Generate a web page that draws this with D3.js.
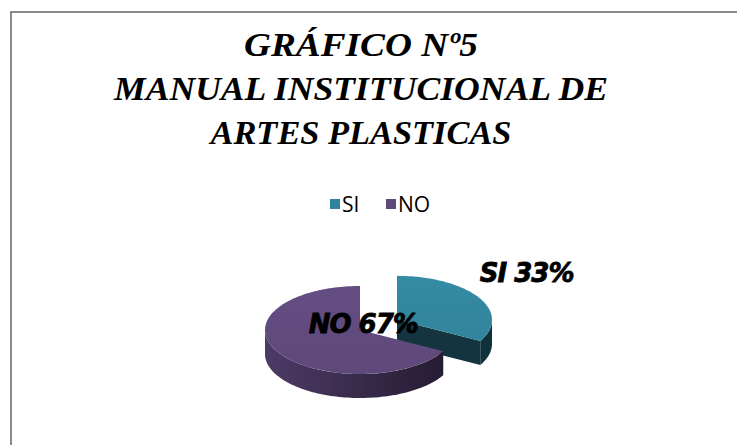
<!DOCTYPE html>
<html>
<head>
<meta charset="utf-8">
<script src="https://cdn.jsdelivr.net/npm/d3@7"></script>
<style>
  body { margin: 0; background: #fff; }
  svg { display: block; }
  .title { font-family: "Liberation Serif", "DejaVu Serif", serif; font-weight: bold; font-style: italic; font-size: 34px; }
</style>
</head>
<body>
<div id="chart"></div>
<script>
// data
var categories = ["SI", "NO"];
var values = [33, 67];
var labels = ["SI 33%", "NO 67%"];
var titleLines = ["GRÁFICO Nº5", "MANUAL INSTITUCIONAL DE", "ARTES PLASTICAS"];
var titleWidths = [234, 494, 301];
var colors = ["#31849B", "#5F497A"];
var sideColors = [["#1a4452", "#10303a"], ["#4d3b66", "#231a2f"]];

var W = 737, H = 445;
var cx = 360, cy = 330, rx = 95, ry = 44, depth = 24;
var explode = [43, 0];

var svg = d3.select("#chart").append("svg")
  .attr("width", W)
  .attr("height", H);

// frame (runs off the right and bottom edge like the original)
svg.append("rect")
  .attr("x", 11).attr("y", 12)
  .attr("width", W + 20).attr("height", H + 20)
  .attr("fill", "none")
  .attr("stroke", "#8a8a8a")
  .attr("stroke-width", 2);

// title
svg.append("g").selectAll("text")
  .data(titleLines)
  .enter().append("text")
  .attr("class", "title")
  .attr("x", 361)
  .attr("y", function(d, i) { return 56 + i * 44; })
  .attr("text-anchor", "middle")
  .attr("textLength", function(d, i) { return titleWidths[i]; })
  .attr("lengthAdjust", "spacingAndGlyphs")
  .text(function(d) { return d; });

// legend
var legendX = d3.scaleOrdinal().domain(categories).range([330, 386]);
var legend = svg.append("g").selectAll("g")
  .data(categories)
  .enter().append("g")
  .attr("transform", function(d) { return "translate(" + legendX(d) + ",199)"; });
legend.append("rect")
  .attr("width", 10).attr("height", 10)
  .attr("fill", function(d, i) { return colors[i]; });
legend.append("text")
  .attr("x", 12).attr("y", 13)
  .style("font-family", "'Open Sans', 'Liberation Sans', sans-serif")
  .style("font-size", "21px")
  .attr("fill", "#000")
  .text(function(d) { return d; });

// pie (3d-ish, tilted ellipse)
var pie = d3.pie().sort(null).startAngle(0).endAngle(2 * Math.PI);
var arcs = pie(values);

var defs = svg.append("defs");
arcs.forEach(function(a, i) {
  var g = defs.append("linearGradient")
    .attr("id", "side" + i)
    .attr("gradientUnits", "userSpaceOnUse")
    .attr("x1", cx - rx).attr("x2", cx + rx + explode[i])
    .attr("y1", 0).attr("y2", 0);
  g.append("stop").attr("offset", "0%").attr("stop-color", sideColors[i][0]);
  g.append("stop").attr("offset", "100%").attr("stop-color", sideColors[i][1]);
  var t = defs.append("linearGradient")
    .attr("id", "top" + i)
    .attr("x1", 0).attr("x2", 0).attr("y1", 0).attr("y2", 1);
  t.append("stop").attr("offset", "0%").attr("stop-color", d3.color(colors[i]).brighter(0.15));
  t.append("stop").attr("offset", "100%").attr("stop-color", colors[i]);
});

function centerOf(a, i) {
  var mid = (a.startAngle + a.endAngle) / 2;
  return [cx + explode[i] * Math.sin(mid), cy - explode[i] * Math.cos(mid) * ry / rx];
}
function proj(c, ang, k, dy) {
  return [c[0] + rx * k * Math.sin(ang), c[1] - ry * k * Math.cos(ang) + (dy || 0)];
}
function sample(a0, a1) {
  var n = Math.max(2, Math.ceil(Math.abs(a1 - a0) / 0.03));
  return d3.range(n + 1).map(function(j) { return a0 + (a1 - a0) * j / n; });
}
var line = d3.line();

var slices = svg.append("g").selectAll("g")
  .data(arcs)
  .enter().append("g");

slices.each(function(a, i) {
  var g = d3.select(this);
  var c = centerOf(a, i);

  // cut face at the end angle when it faces the viewer
  if (Math.cos(a.endAngle + Math.PI / 2) < 0 && a.endAngle < 2 * Math.PI - 0.01) {
    var e = proj(c, a.endAngle, 1, 0), e2 = proj(c, a.endAngle, 1, depth);
    g.append("path")
      .attr("d", line([c, e, e2, [c[0], c[1] + depth]]) + "Z")
      .attr("fill", "#143540");
  }

  // outer wall, only the part facing the viewer
  var s0 = Math.max(a.startAngle, Math.PI / 2), s1 = Math.min(a.endAngle, 3 * Math.PI / 2);
  if (s1 > s0) {
    var angs = sample(s0, s1);
    var pts = angs.map(function(t) { return proj(c, t, 1, 0); })
      .concat(angs.slice().reverse().map(function(t) { return proj(c, t, 1, depth); }));
    g.append("path").attr("d", line(pts) + "Z").attr("fill", "url(#side" + i + ")");
  }

  // top face
  var top = [c].concat(sample(a.startAngle, a.endAngle).map(function(t) { return proj(c, t, 1, 0); }));
  g.append("path").attr("d", line(top) + "Z").attr("fill", "url(#top" + i + ")");
});

// data labels
var labelPos = [
  function(a) { var p = proj(centerOf(a, 0), (a.startAngle + a.endAngle) / 2, 1, 0); return [p[0] + 1, p[1] - 15, "start"]; },
  function(a) { var p = proj(centerOf(a, 1), (a.startAngle + a.endAngle) / 2, 0.4, 0); return [p[0] + 36, p[1] - 6, "middle"]; }
];
svg.append("g").selectAll("text")
  .data(arcs)
  .enter().append("text")
  .each(function(a, i) {
    var p = labelPos[i](a);
    d3.select(this).attr("x", p[0]).attr("y", p[1]).attr("text-anchor", p[2]);
  })
  .style("font-family", "'DejaVu Sans', sans-serif")
  .style("font-weight", "bold")
  .style("font-style", "italic")
  .style("font-size", "26px")
  .style("letter-spacing", "-1px")
  .attr("fill", "#000")
  .attr("stroke", "#000")
  .attr("stroke-width", 0.8)
  .text(function(d, i) { return labels[i]; });
</script>
</body>
</html>
